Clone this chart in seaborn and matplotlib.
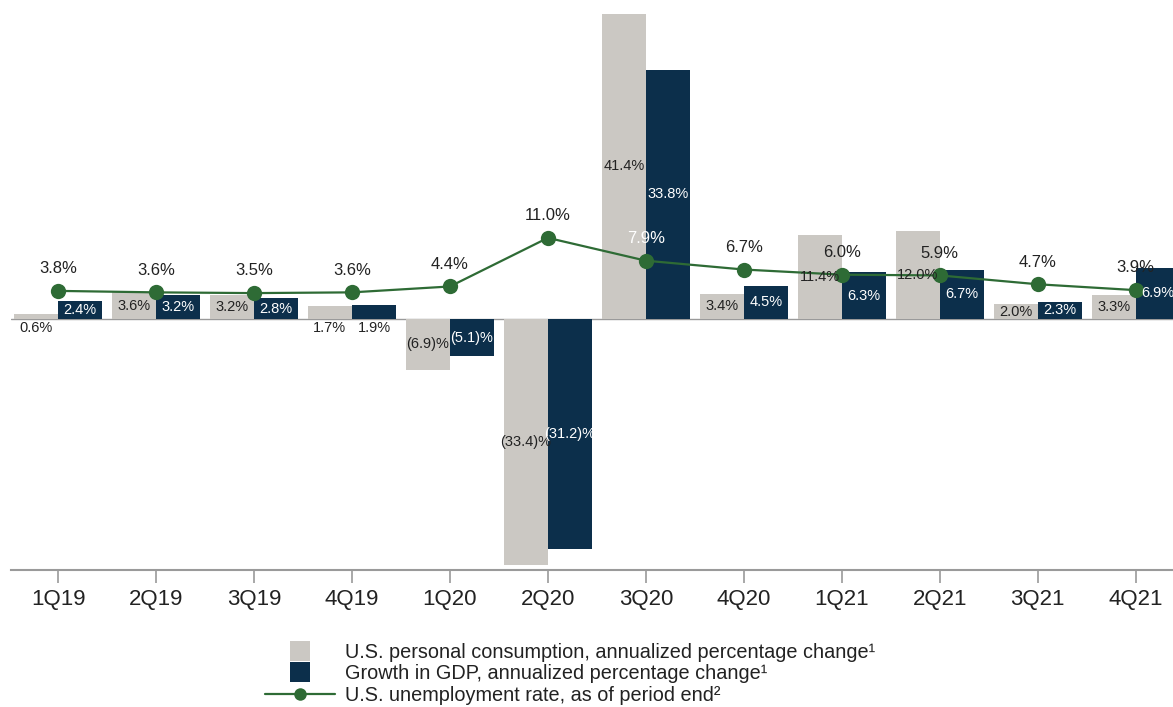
"""
Consumo personal, PIB y desempleo en EE.UU. por trimestre (1Q19-4Q21)
"""

import pandas as pd
import numpy as np
import matplotlib.pyplot as plt
import seaborn as sns
from matplotlib.lines import Line2D

# Datos
trimestres = ['1Q19', '2Q19', '3Q19', '4Q19', '1Q20', '2Q20',
              '3Q20', '4Q20', '1Q21', '2Q21', '3Q21', '4Q21']
consumo = [0.6, 3.6, 3.2, 1.7, -6.9, -33.4, 41.4, 3.4, 11.4, 12.0, 2.0, 3.3]
pib = [2.4, 3.2, 2.8, 1.9, -5.1, -31.2, 33.8, 4.5, 6.3, 6.7, 2.3, 6.9]
desempleo = [3.8, 3.6, 3.5, 3.6, 4.4, 11.0, 7.9, 6.7, 6.0, 5.9, 4.7, 3.9]

series = ['U.S. personal consumption, annualized percentage change\u00b9',
          'Growth in GDP, annualized percentage change\u00b9']
serie_linea = 'U.S. unemployment rate, as of period end\u00b2'

GRIS = '#cbc8c3'
AZUL = '#0c2f4b'
VERDE = '#2e6b35'
TEXTO = '#222222'


def formato(v):
    if v < 0:
        return f'({abs(v):.1f})%'
    return f'{v:.1f}%'


sns.set_theme(style='white')
plt.rcParams['font.family'] = ['Liberation Sans', 'DejaVu Sans']

df = pd.DataFrame({
    'trimestre': trimestres * 2,
    'valor': consumo + pib,
    'serie': [series[0]] * len(trimestres) + [series[1]] * len(trimestres),
})

fig = plt.figure(figsize=(11.73, 7.07), dpi=100)
ax = fig.add_axes([11 / 1173, 137 / 707, 1 - 11 / 1173, 570 / 707])

ax.axhline(0, color='#9a9a9a', linewidth=1, zorder=0)

sns.barplot(data=df, x='trimestre', y='valor', hue='serie', order=trimestres,
            hue_order=series, palette=[GRIS, AZUL], width=0.9, gap=0,
            linewidth=0, saturation=1, legend=False, ax=ax, zorder=2)

# Etiquetas de barras
for i, cont in enumerate(ax.containers):
    for barra in cont:
        v = barra.get_height()
        xc = barra.get_x() + barra.get_width() / 2
        if 0 < v < 2:
            y = -1.2
            color = TEXTO
        else:
            y = v / 2
            color = TEXTO if i == 0 else 'white'
        ax.text(xc, y, formato(v), ha='center', va='center',
                fontsize=10.5, color=color, zorder=5)

# Linea de desempleo
x = np.arange(len(trimestres))
sns.lineplot(x=x, y=desempleo, color=VERDE, linewidth=1.6, marker='o',
             markersize=11, markeredgewidth=0, ax=ax, zorder=4)

for xi, v, g in zip(x, desempleo, pib):
    color = 'white' if g > v + 3 else TEXTO
    ax.annotate(formato(v), (xi, v), xytext=(0, 16), textcoords='offset points',
                ha='center', va='center', fontsize=12, color=color, zorder=6)

ax.set_xlim(-0.48, 11.38)
ax.set_ylim(-34.1, 43.3)
ax.set_xlabel('')
ax.set_ylabel('')
ax.set_yticks([])
for lado in ['top', 'left', 'right']:
    ax.spines[lado].set_visible(False)
ax.spines['bottom'].set_color('#9a9a9a')
ax.spines['bottom'].set_linewidth(1.5)
ax.tick_params(axis='x', bottom=True, length=9, width=1.2, color='#9a9a9a',
               labelsize=16, labelcolor=TEXTO, pad=5)

# Leyenda
handles = [
    Line2D([], [], linestyle='none', marker='s', markersize=14.5,
           markerfacecolor=GRIS, markeredgewidth=0),
    Line2D([], [], linestyle='none', marker='s', markersize=14.5,
           markerfacecolor=AZUL, markeredgewidth=0),
    Line2D([], [], color=VERDE, linewidth=1.6, marker='o', markersize=9,
           markeredgewidth=0),
]
fig.legend(handles, series + [serie_linea], loc='upper left',
           bbox_to_anchor=(265 / 1173, 1 - 643 / 707), frameon=False,
           fontsize=14.3, handlelength=3.5, handletextpad=0.55,
           labelspacing=0.12, borderpad=0, borderaxespad=0, labelcolor=TEXTO)

plt.savefig('out.png', dpi=100)
plt.close()
